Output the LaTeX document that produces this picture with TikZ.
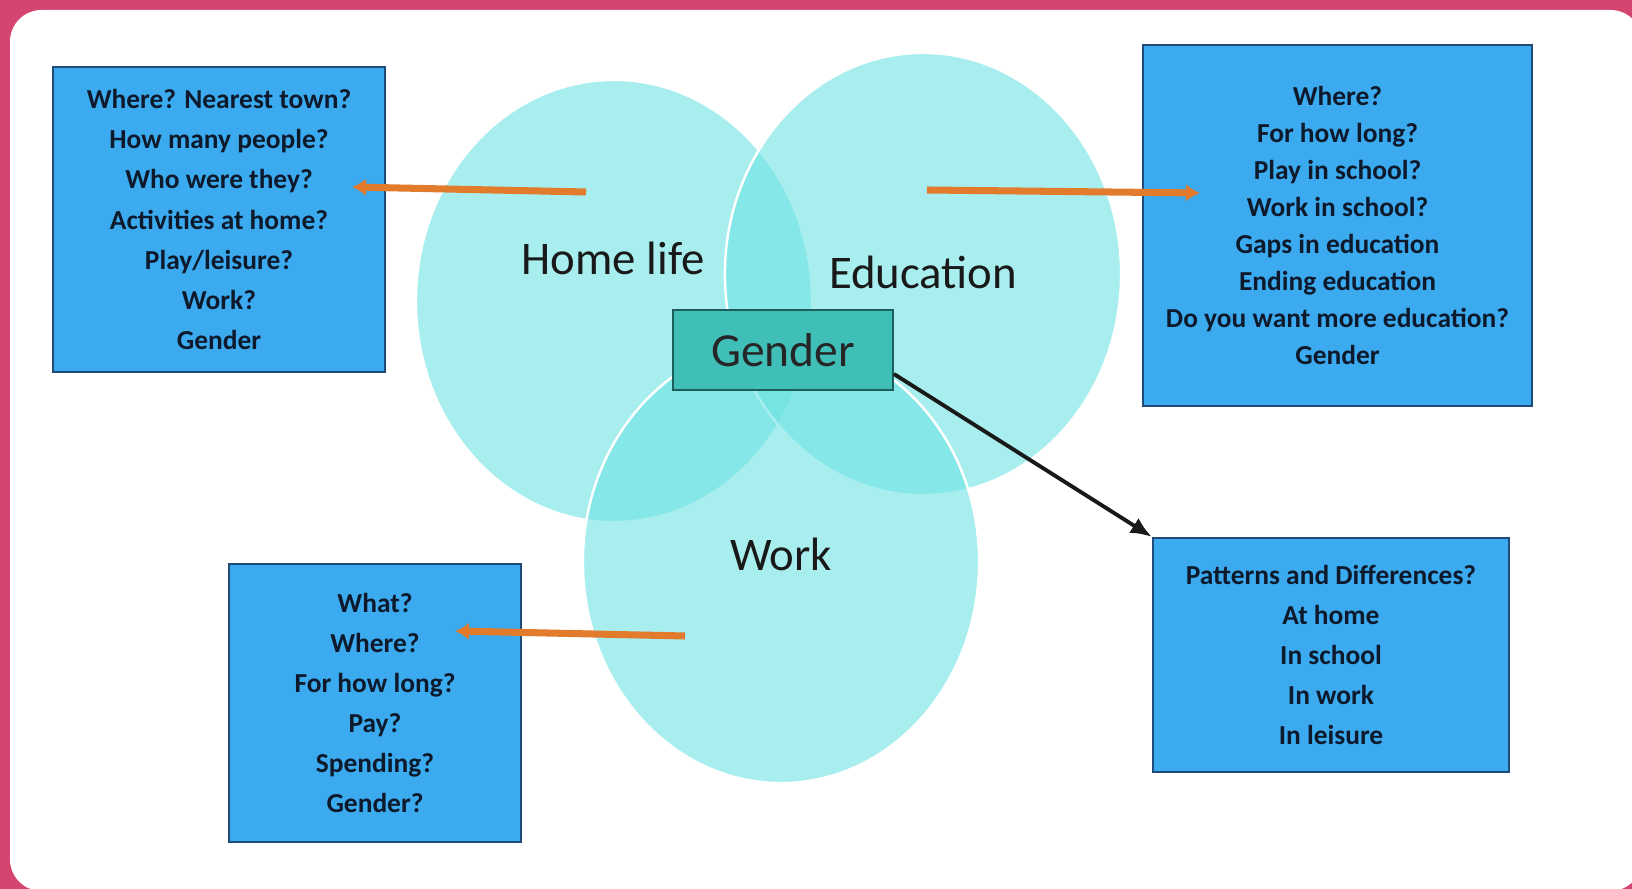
\documentclass[tikz,border=0pt]{standalone}
\usepackage{fontspec}
\setmainfont{Carlito}
\usetikzlibrary{arrows.meta,calc}
\definecolor{frame}{HTML}{D6456F}
\definecolor{lagoon}{HTML}{6FE3E3}
\definecolor{hubfill}{HTML}{40BFB8}
\definecolor{hubline}{HTML}{1E5E5A}
\definecolor{boxfill}{HTML}{3BAAEF}
\definecolor{boxline}{HTML}{1F4B78}
\definecolor{navytext}{HTML}{0E1A2B}
\definecolor{leadorange}{HTML}{E27B2C}
\tikzset{>=Latex,
  zone/.style={fill=lagoon,fill opacity=.6,draw=white,line width=.7pt},
  zonelabel/.style={font=\fontsize{13.3}{16}\selectfont,text=black!90},
  qbox/.style={rectangle,fill=boxfill,draw=boxline,line width=.6pt,align=center,
    text=navytext,font=\bfseries\fontsize{7.8}{11.4}\selectfont},
  hub/.style={rectangle,fill=hubfill,draw=hubline,line width=.5pt,minimum width=2.2cm,
    minimum height=.8cm,font=\fontsize{13.5}{16}\selectfont,text=black!85},
  lead/.style={-{Latex[length=4pt,width=5pt]},draw=leadorange,line width=2pt},
  link/.style={-{Latex[length=6pt,width=5pt]},draw=black!90,line width=1.1pt}}

\begin{document}
\begin{tikzpicture}[x=0.01cm,y=-0.01cm]
\useasboundingbox (0,0) rectangle (1632,889);
% frame and card
\fill[frame] (0,0) rectangle (1632,889);
\fill[white,rounded corners=9pt] (10,10) rectangle (1642,891);

% the three areas
\foreach \cx/\cy in {614/301,923/274,781/562}
  \draw[zone] (\cx,\cy) ellipse [x radius=1.98cm,y radius=2.21cm];
\node[zonelabel] (home) at (613,258) {Home life};
\node[zonelabel] (edu) at (923,272) {Education};
\node[zonelabel] (work) at (781,554) {Work};
\node[hub] (gender) at (783,350) {Gender};

% question boxes
\node[qbox,minimum width=3.32cm,minimum height=3.05cm] (homeq) at (219,219.5)
  {Where? Nearest town?\\How many people?\\Who were they?\\Activities at home?\\Play/leisure?\\Work?\\Gender};
\node[qbox,minimum width=3.89cm,minimum height=3.61cm,
  font=\bfseries\fontsize{7.8}{10.5}\selectfont] (eduq) at (1337.5,225.5)
  {Where?\\For how long?\\Play in school?\\Work in school?\\Gaps in education\\Ending education\\Do you want more education?\\Gender};
\node[qbox,minimum width=2.92cm,minimum height=2.78cm] (workq) at (375,703)
  {What?\\Where?\\For how long?\\Pay?\\Spending?\\Gender?};
\node[qbox,minimum width=3.56cm,minimum height=2.34cm] (diffq) at (1331,655)
  {Patterns and Differences?\\At home\\In school\\In work\\In leisure};

% pointers
\coordinate (homeout) at (586,192);
\coordinate (homein) at (352,187);
\coordinate (eduout) at (927,190);
\coordinate (eduin) at (1200,193);
\coordinate (workout) at (685,636);
\coordinate (workin) at (455,631);
\draw[lead] (homeout) -- (homein);
\draw[lead] (eduout) -- (eduin);
\draw[lead] (workout) -- (workin);
\draw[link] ([yshift=4.8pt]gender.south east) -- (diffq.north west);
\end{tikzpicture}
\end{document}
